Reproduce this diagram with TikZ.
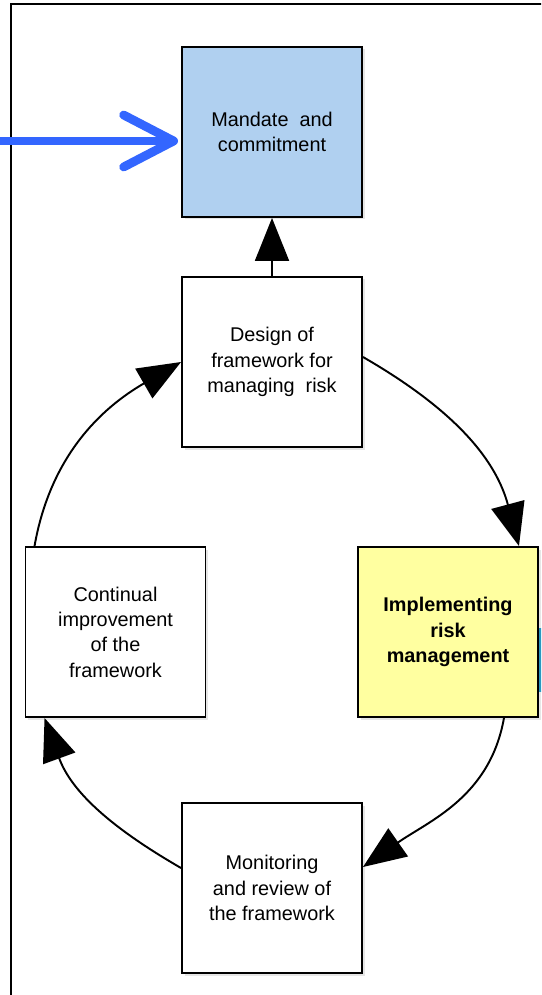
\documentclass[tikz,border=0pt]{standalone}
\usepackage{fontspec}
\setmainfont{Liberation Sans}
\usetikzlibrary{arrows.meta,shadows}
\definecolor{mandblue}{RGB}{176,208,240}
\definecolor{implyellow}{RGB}{255,255,160}
\definecolor{pushblue}{RGB}{51,102,255}
\definecolor{edgecyan}{RGB}{20,160,210}
\tikzset{box/.style={rectangle,draw,line width=1.1pt,fill=white,minimum width=3.6cm,minimum height=3.4cm,inner sep=0pt,align=center,font=\fontsize{11.3}{14.4}\selectfont,drop shadow={shadow xshift=0.05cm,shadow yshift=-0.05cm,opacity=0.2}}}
\tikzset{flow/.style={-{Triangle[length=0.86cm,width=0.68cm]},line width=1.1pt}}
\tikzset{push/.style={-{Straight Barb[length=1.0cm,width=1.04cm,round]},line width=5pt,pushblue,line cap=round,shorten >=0.06cm}}

\begin{document}
\begin{tikzpicture}
  \useasboundingbox (0,0) rectangle (10.82,-19.9);
  \clip (0,0) rectangle (10.82,-19.9);
  % frame
  \draw[line width=1.1pt] (11.5,-0.08) -- (0.22,-0.08) -- (0.22,-20.5);
  \fill[edgecyan] (10.74,-12.56) rectangle (10.9,-13.84);
      \node[box,fill=mandblue] (mandate) at (5.44,-2.64) {Mandate\ \ and\\commitment};
      \node[box] (design) at (5.44,-7.24) {Design of\\framework for\\managing\ \ risk};
      \node[box] (improve) at (2.31,-12.64) {Continual\\improvement\\of the\\framework};
      \node[box,fill=implyellow,font=\fontsize{11.3}{14.4}\selectfont\bfseries] (impl) at (8.96,-12.64) {Implementing\\risk\\management};
      \node[box] (monitor) at (5.44,-17.76) {Monitoring\\and review of\\the framework};
      \coordinate (src) at (-0.3,-2.82);
        \draw[push] (src) -- (src -| mandate.west);
        \draw[flow] (design) -- (mandate);
        \draw[flow] ([yshift=0.1cm]design.east) to[out=-30,in=105] ([xshift=-0.4cm]impl.north east);
        \draw[flow] ([xshift=-0.7cm]impl.south east) to[out=-100,in=35] ([yshift=0.42cm]monitor.east);
        \draw[flow] ([yshift=0.4cm]monitor.west) to[out=150,in=-70] ([xshift=0.4cm]improve.south west);
        \draw[flow] ([xshift=0.2cm]improve.north west) to[out=80,in=210] (design.west);
    \end{tikzpicture}
\end{document}
